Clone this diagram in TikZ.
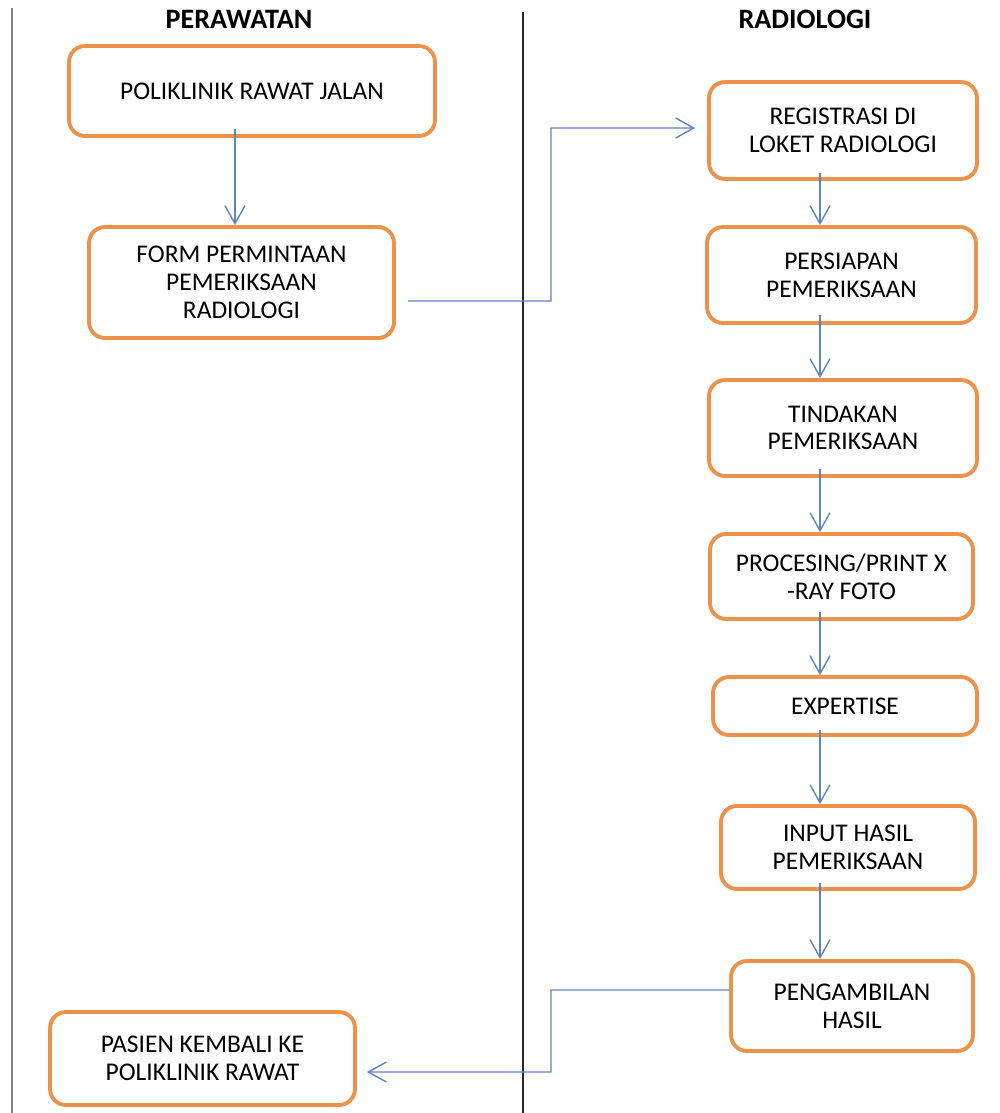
\documentclass[tikz,border=0pt]{standalone}
\usepackage{fontspec}
\setmainfont{Carlito}
\usetikzlibrary{arrows.meta}
\definecolor{boxorange}{RGB}{237,146,74}
\definecolor{flowblue}{RGB}{91,135,190}
\definecolor{lanegray}{RGB}{40,40,40}
\tikzset{
  box/.style={draw=boxorange,line width=2.2pt,rounded corners=0.32cm,align=center,
    inner sep=0pt,font=\fontsize{14.5}{15.8}\selectfont},
  flow/.style={flowblue,line width=0.8pt,-{Straight Barb[length=0.36cm,width=0.4cm,line width=0.8pt]}},
  lanehead/.style={font=\fontsize{16}{18}\selectfont\bfseries},
}
\begin{document}
\begin{tikzpicture}[x=0.02cm,y=-0.02cm]
\useasboundingbox (0,0) rectangle (1000,1113);
% lanes
\draw[gray,line width=1pt] (12,8) -- (12,1113);
\draw[lanegray,line width=1pt] (523,12) -- (523,1113);
\node[lanehead] (hperawatan) at (239,19){PERAWATAN};
\node[lanehead] (hradiologi) at (805,19){RADIOLOGI};
% perawatan
\node[box,minimum width=7.32cm,minimum height=1.8cm] (poli) at (252,91){POLIKLINIK RAWAT JALAN};
\node[box,minimum width=6.1cm,minimum height=2.22cm] (form) at (241.5,282.5){FORM PERMINTAAN\\PEMERIKSAAN\\RADIOLOGI};
\node[box,minimum width=6.1cm,minimum height=1.86cm] (pasien) at (202.5,1058.5){PASIEN KEMBALI KE\\POLIKLINIK RAWAT};
% radiologi
\node[box,minimum width=5.36cm,minimum height=1.94cm] (reg) at (843,130.5){REGISTRASI DI\\LOKET RADIOLOGI};
\node[box,minimum width=5.38cm,minimum height=1.92cm] (pers) at (841.5,275){PERSIAPAN\\PEMERIKSAAN};
\node[box,minimum width=5.36cm,minimum height=1.92cm] (tind) at (843,428){TINDAKAN\\PEMERIKSAAN};
\node[box,minimum width=5.26cm,minimum height=1.7cm] (proc) at (841.5,576.5){PROCESING/PRINT X\\-RAY FOTO};
\node[box,minimum width=5.28cm,minimum height=1.16cm] (expert) at (845,706){EXPERTISE};
\node[box,minimum width=5.08cm,minimum height=1.66cm] (input) at (848,847.5){INPUT HASIL\\PEMERIKSAAN};
\node[box,minimum width=4.84cm,minimum height=1.8cm] (ambil) at (852,1006){PENGAMBILAN\\HASIL};
% connectors
\coordinate (leftspine) at (235,0);
\coordinate (spine) at (820,0);
\coordinate (bendup) at (551,128);
\coordinate (benddown) at (551,1072);
\draw[flow] ([yshift=0.18cm]poli.south -| leftspine) -- (form.north -| leftspine);
\draw[flow] ([xshift=0.24cm,yshift=-0.37cm]form.east) -| (bendup) -- ([xshift=-0.24cm,yshift=0.05cm]reg.west);
\draw[flow] ([yshift=0.16cm]reg.south -| spine) -- (pers.north -| spine);
\draw[flow] ([yshift=0.2cm]pers.south -| spine) -- (tind.north -| spine);
\draw[flow] ([yshift=0.18cm]tind.south -| spine) -- (proc.north -| spine);
\draw[flow] ([yshift=0.18cm]proc.south -| spine) -- (expert.north -| spine);
\draw[flow] ([yshift=0.14cm]expert.south -| spine) -- (input.north -| spine);
\draw[flow] ([yshift=0.16cm]input.south -| spine) -- (ambil.north -| spine);
\draw[flow] ([yshift=0.32cm]ambil.west) -| (benddown) -- ([xshift=0.2cm,yshift=-0.27cm]pasien.east);
\end{tikzpicture}
\end{document}
